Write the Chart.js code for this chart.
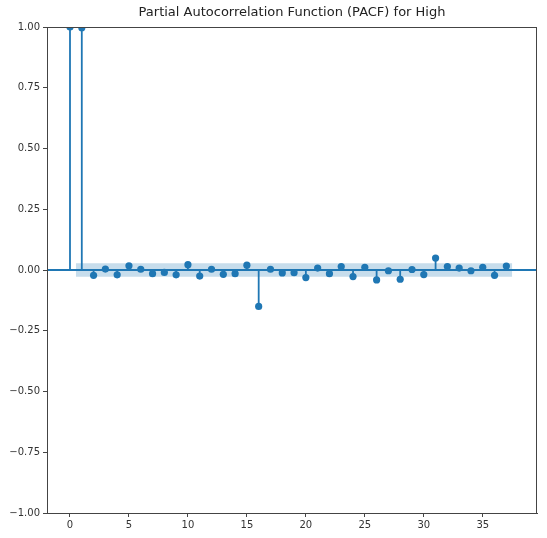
<!DOCTYPE html>
<html>
<head>
<meta charset="utf-8">
<script src="https://cdn.jsdelivr.net/npm/chart.js@4"></script>
<style>
  html, body { margin: 0; padding: 0; background: #ffffff; }
  #wrap { width: 547px; height: 538px; position: relative; }
</style>
</head>
<body>
<div id="wrap"><canvas id="pacf-chart"></canvas></div>
<script>
// PACF values, lag 0..37
const lags = [0, 1, 2, 3, 4, 5, 6, 7, 8, 9, 10, 11, 12, 13, 14, 15, 16, 17, 18,
              19, 20, 21, 22, 23, 24, 25, 26, 27, 28, 29, 30, 31, 32, 33, 34, 35, 36, 37];
const pacfValues = [1.0, 0.997, -0.022, 0.004, -0.02, 0.017, 0.003, -0.015, -0.01, -0.02,
                    0.022, -0.025, 0.003, -0.018, -0.015, 0.02, -0.15, 0.003, -0.012, -0.011,
                    -0.031, 0.008, -0.015, 0.014, -0.027, 0.011, -0.041, -0.003, -0.038, 0.002,
                    -0.019, 0.049, 0.014, 0.008, -0.003, 0.011, -0.022, 0.016];
const confBound = 0.028;          // 95% band half-width
const bandLags = [0.5, 37.5];
const xTicks = [0, 5, 10, 15, 20, 25, 30, 35];
const yTicks = [-1, -0.75, -0.5, -0.25, 0, 0.25, 0.5, 0.75, 1];
const xRange = [-1.95, 39.6];
const titleText = 'Partial Autocorrelation Function (PACF) for High';

const blue = '#1f77b4';
const axisColor = '#444444';
const fontFamily = '"DejaVu Sans", sans-serif';

// stems from 0 to each value, plus frame and title
const stemPlugin = {
    id: 'stems',
    beforeDatasetsDraw(chart) {
        const ctx = chart.ctx;
        const xs = chart.scales.x;
        const ys = chart.scales.y;
        const y0 = ys.getPixelForValue(0);
        ctx.save();
        ctx.strokeStyle = blue;
        ctx.lineWidth = 1.8;
        lags.forEach((lag, i) => {
            const px = xs.getPixelForValue(lag);
            ctx.beginPath();
            ctx.moveTo(px, y0);
            ctx.lineTo(px, ys.getPixelForValue(pacfValues[i]));
            ctx.stroke();
        });
        ctx.restore();
    },
    afterDraw(chart) {
        const ctx = chart.ctx;
        const a = chart.chartArea;
        ctx.save();
        ctx.strokeStyle = axisColor;
        ctx.lineWidth = 1;
        ctx.strokeRect(a.left + 0.5, a.top + 0.5, a.right - a.left - 1, a.bottom - a.top);
        ctx.fillStyle = '#222222';
        ctx.font = '13px ' + fontFamily;
        ctx.textAlign = 'center';
        ctx.textBaseline = 'middle';
        ctx.fillText(titleText, (a.left + a.right) / 2, 13);
        ctx.restore();
    }
};

const ctx = document.getElementById('pacf-chart').getContext('2d');

const pacfChart = new Chart(ctx, {
    type: 'scatter',
    data: {
        datasets: [
            {
                label: 'upper',
                type: 'line',
                data: bandLags.map(x => ({ x: x, y: confBound })),
                borderWidth: 0,
                pointRadius: 0,
                fill: false
            },
            {
                label: 'lower',
                type: 'line',
                data: bandLags.map(x => ({ x: x, y: -confBound })),
                borderWidth: 0,
                pointRadius: 0,
                backgroundColor: 'rgba(31, 119, 180, 0.25)',
                fill: '-1'
            },
            {
                label: 'zero',
                type: 'line',
                data: xRange.map(x => ({ x: x, y: 0 })),
                borderColor: blue,
                borderWidth: 1.8,
                pointRadius: 0,
                fill: false
            },
            {
                label: 'PACF',
                data: lags.map((lag, i) => ({ x: lag, y: pacfValues[i] })),
                backgroundColor: blue,
                borderColor: blue,
                pointRadius: 3.6,
                pointHoverRadius: 3.6,
                borderWidth: 0
            }
        ]
    },
    options: {
        responsive: true,
        maintainAspectRatio: false,
        animation: false,
        layout: { padding: { left: 0, right: 10, top: 27, bottom: 0 } },
        plugins: {
            legend: { display: false },
            tooltip: { enabled: false },
            title: { display: false }
        },
        scales: {
            x: {
                type: 'linear',
                min: xRange[0],
                max: xRange[1],
                afterBuildTicks: axis => { axis.ticks = xTicks.map(v => ({ value: v })); },
                afterFit: axis => { axis.height = 25; },
                grid: {
                    drawOnChartArea: false,
                    drawTicks: true,
                    tickLength: 4,
                    tickColor: axisColor
                },
                border: { color: axisColor, width: 1 },
                ticks: {
                    color: '#333333',
                    font: { family: fontFamily, size: 10 },
                    padding: 2,
                    maxRotation: 0
                }
            },
            y: {
                type: 'linear',
                min: -1,
                max: 1,
                afterBuildTicks: axis => { axis.ticks = yTicks.map(v => ({ value: v })); },
                afterFit: axis => { axis.width = 47; },
                grid: {
                    drawOnChartArea: false,
                    drawTicks: true,
                    tickLength: 4,
                    tickColor: axisColor
                },
                border: { color: axisColor, width: 1 },
                ticks: {
                    color: '#333333',
                    font: { family: fontFamily, size: 10 },
                    padding: 3,
                    callback: v => v.toFixed(2).replace('-', '\u2212')
                }
            }
        }
    },
    plugins: [stemPlugin]
});
</script>
</body>
</html>
